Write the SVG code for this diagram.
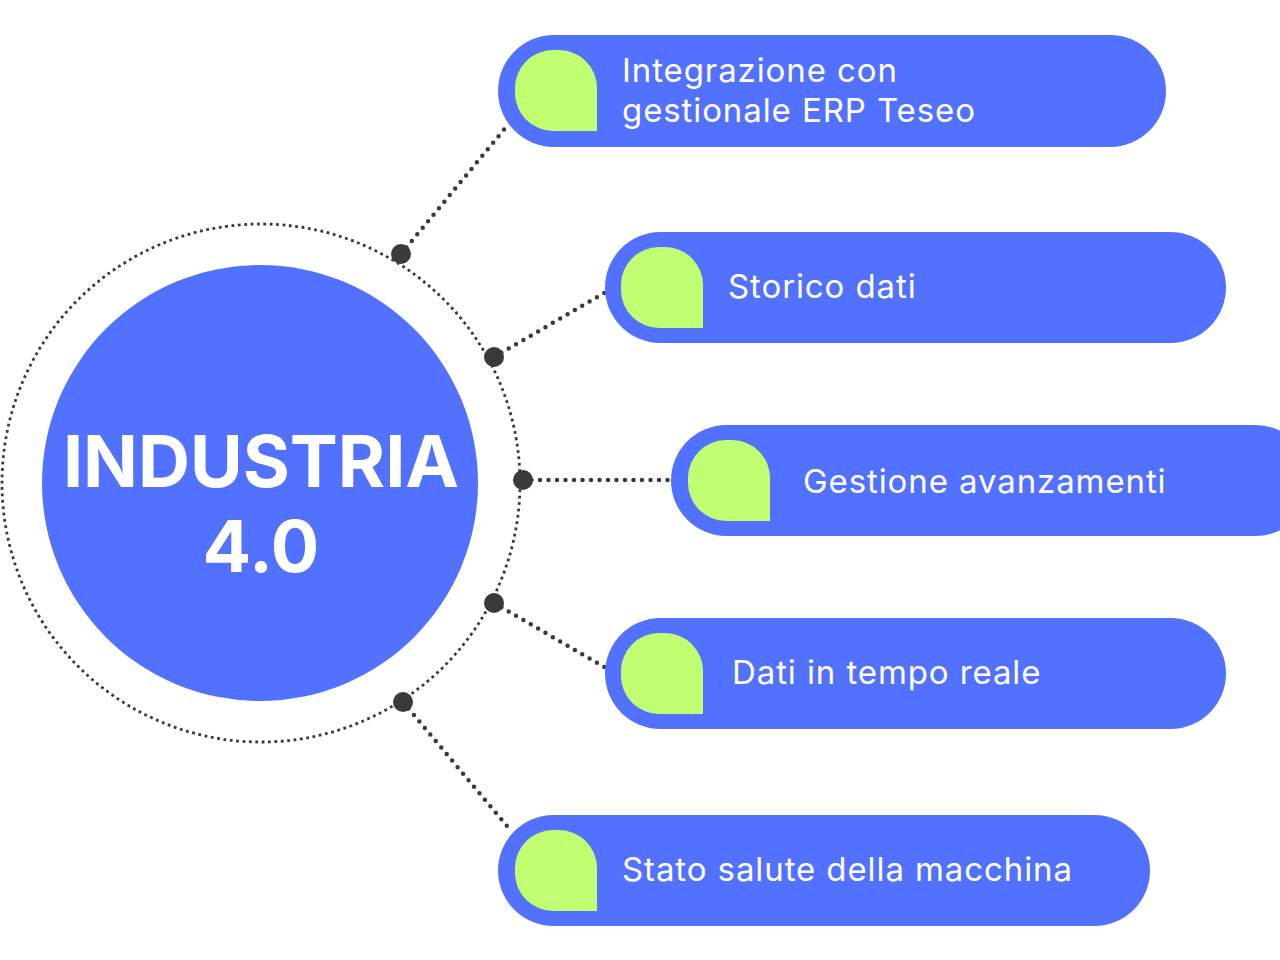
<svg xmlns="http://www.w3.org/2000/svg" width="1280" height="960" viewBox="0 0 1280 960">
<defs>
<style>
.pill{fill:#5271FF}
.leaf{fill:#C1FF72}
.lbl{font-family:Inter,"Liberation Sans",sans-serif;font-size:33px;letter-spacing:0.9px;fill:#FFFFFF}
.title{font-family:Inter,"Liberation Sans",sans-serif;font-size:72px;font-weight:bold;fill:#FFFFFF;text-anchor:middle}
.conn{stroke:#3A3A3A;stroke-width:4.5;stroke-linecap:round;stroke-dasharray:0 8.5;fill:none}
.ring{stroke:#3A3A3A;stroke-width:2.8;stroke-dasharray:2.8 3.6;fill:none}
.dot{fill:#3A3A3A}
</style>
</defs>
<rect width="1280" height="960" fill="#FFFFFF"/>
<g id="hub">
<circle class="ring" cx="261" cy="483" r="259"/>
<circle cx="260" cy="483" r="218" fill="#5271FF"/>
<text class="title" x="261" y="487">INDUSTRIA</text>
<text class="title" x="261" y="572">4.0</text>
</g>
<g id="connectors">
<line class="conn" x1="401" y1="254" x2="507" y2="126"/>
<line class="conn" x1="494" y1="357" x2="606" y2="292"/>
<line class="conn" x1="523" y1="480" x2="669" y2="480"/>
<line class="conn" x1="494" y1="603" x2="606" y2="668"/>
<line class="conn" x1="403" y1="702" x2="512" y2="832"/>
<circle class="dot" cx="401" cy="254" r="10"/>
<circle class="dot" cx="494" cy="357" r="10"/>
<circle class="dot" cx="523" cy="480" r="10"/>
<circle class="dot" cx="494" cy="603" r="10"/>
<circle class="dot" cx="403" cy="702" r="10"/>
</g>
<g id="node1">
<rect class="pill" x="498" y="35" width="668" height="112" rx="56"/>
<path class="leaf" d="M515,88 A38,38 0 0 1 553,50 H559 A38,38 0 0 1 597,88 V131 H553 A38,38 0 0 1 515,93 Z"/>
<text class="lbl" x="622" y="82">Integrazione con</text>
<text class="lbl" x="622" y="122">gestionale ERP Teseo</text>
</g>
<g id="node2">
<rect class="pill" x="605" y="232" width="621" height="111" rx="55.5"/>
<path class="leaf" d="M621,285 A38,38 0 0 1 659,247 H665 A38,38 0 0 1 703,285 V328 H659 A38,38 0 0 1 621,290 Z"/>
<text class="lbl" x="728" y="298">Storico dati</text>
</g>
<g id="node3">
<rect class="pill" x="671" y="425" width="640" height="111" rx="55.5"/>
<path class="leaf" d="M688,478 A38,38 0 0 1 726,440 H732 A38,38 0 0 1 770,478 V521 H726 A38,38 0 0 1 688,483 Z"/>
<text class="lbl" x="803" y="493">Gestione avanzamenti</text>
</g>
<g id="node4">
<rect class="pill" x="605" y="618" width="621" height="111" rx="55.5"/>
<path class="leaf" d="M621,671 A38,38 0 0 1 659,633 H665 A38,38 0 0 1 703,671 V714 H659 A38,38 0 0 1 621,676 Z"/>
<text class="lbl" x="732" y="684">Dati in tempo reale</text>
</g>
<g id="node5">
<rect class="pill" x="498" y="815" width="652" height="111" rx="55.5"/>
<path class="leaf" d="M515,868 A38,38 0 0 1 553,830 H559 A38,38 0 0 1 597,868 V911 H553 A38,38 0 0 1 515,873 Z"/>
<text class="lbl" x="622" y="881">Stato salute della macchina</text>
</g>
</svg>
